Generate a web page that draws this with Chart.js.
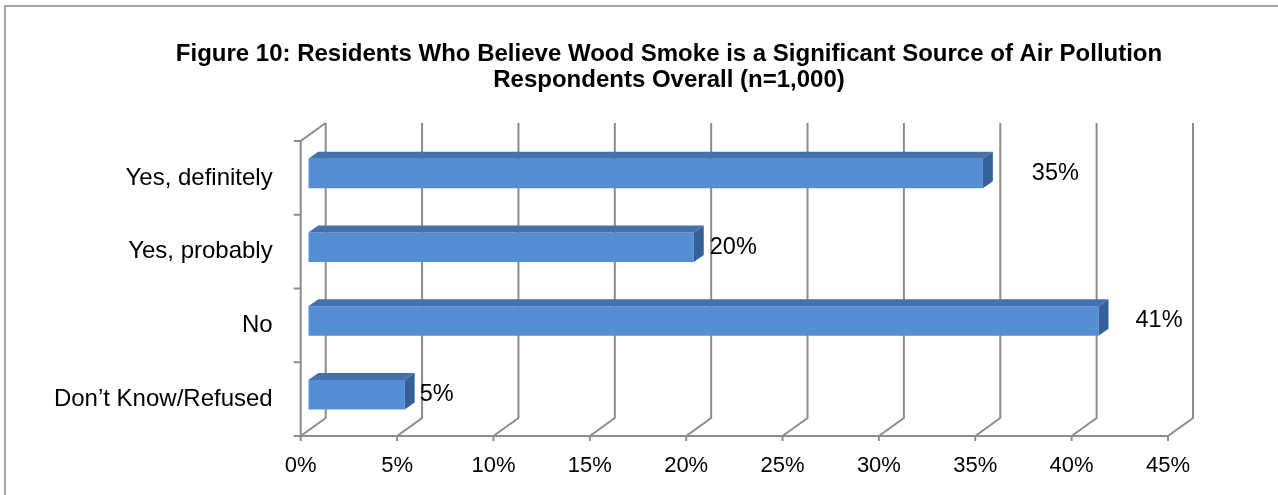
<!DOCTYPE html>
<html lang="en">

<head>
    <meta charset="UTF-8">
    <title>Figure 10</title>
    <script src="https://cdn.jsdelivr.net/npm/chart.js"></script>
    <style>
        body { margin: 0; background: #fff; }
        #wrap { width: 1278px; height: 495px; }
    </style>
</head>

<body>
    <div id="wrap"><canvas id="myChart" width="1278" height="495"></canvas></div>

    <script>
        const categories = ['Yes, definitely', 'Yes, probably', 'No', 'Don\u2019t Know/Refused'];
        const percents = [35, 20, 41, 5];
        const xTickValues = [0, 5, 10, 15, 20, 25, 30, 35, 40, 45];
        const titleLines = [
            'Figure 10: Residents Who Believe Wood Smoke is a Significant Source of Air Pollution',
            'Respondents Overall (n=1,000)'
        ];

        const FONT = "'Liberation Sans', Arial, sans-serif";
        // 3d look, in px
        const DEPTH = { x: 25, y: -18 };
        const BAR_FRONT = { x: 7.6, y: -4.5 };
        const BAR_DEPTH = { x: 10, y: -7 };
        const labelNudge = [49, 16, 37, 15];

        const walls = {
            id: 'walls',
            beforeDatasetsDraw(chart) {
                const { ctx, chartArea: a, scales: { x } } = chart;
                ctx.save();
                ctx.strokeStyle = '#8c8c8c';
                ctx.lineWidth = 2;
                x.ticks.forEach(t => {
                    const px = x.getPixelForValue(t.value);
                    ctx.beginPath();
                    ctx.moveTo(px, a.bottom);
                    ctx.lineTo(px + DEPTH.x, a.bottom + DEPTH.y);
                    ctx.lineTo(px + DEPTH.x, a.top + DEPTH.y);
                    ctx.stroke();
                    ctx.beginPath();
                    ctx.moveTo(px, a.bottom);
                    ctx.lineTo(px, a.bottom + 5);
                    ctx.stroke();
                });
                // floor front edge
                ctx.beginPath();
                ctx.moveTo(a.left, a.bottom);
                ctx.lineTo(a.right, a.bottom);
                ctx.stroke();
                // left wall
                ctx.beginPath();
                ctx.moveTo(a.left, a.bottom);
                ctx.lineTo(a.left, a.top);
                ctx.lineTo(a.left + DEPTH.x, a.top + DEPTH.y);
                ctx.stroke();
                const n = categories.length;
                for (let i = 0; i <= n; i++) {
                    const yy = a.top + i * (a.bottom - a.top) / n;
                    ctx.beginPath();
                    ctx.moveTo(a.left - 7, yy);
                    ctx.lineTo(a.left, yy);
                    ctx.stroke();
                }
                ctx.restore();
                // bars sit a bit back from the front plane
                ctx.save();
                ctx.translate(BAR_FRONT.x, BAR_FRONT.y);
            },
            afterDatasetsDraw(chart) {
                const { ctx } = chart;
                ctx.restore();
                const meta = chart.getDatasetMeta(0);
                meta.data.forEach((bar, i) => {
                    const p = bar.getProps(['x', 'y', 'base', 'height'], true);
                    const left = p.base + BAR_FRONT.x, right = p.x + BAR_FRONT.x;
                    const top = p.y - p.height / 2 + BAR_FRONT.y, bottom = p.y + p.height / 2 + BAR_FRONT.y;
                    ctx.fillStyle = '#4471ab';
                    ctx.beginPath();
                    ctx.moveTo(left, top);
                    ctx.lineTo(left + BAR_DEPTH.x, top + BAR_DEPTH.y);
                    ctx.lineTo(right + BAR_DEPTH.x, top + BAR_DEPTH.y);
                    ctx.lineTo(right, top);
                    ctx.closePath();
                    ctx.fill();
                    ctx.fillStyle = '#36609a';
                    ctx.beginPath();
                    ctx.moveTo(right, top);
                    ctx.lineTo(right + BAR_DEPTH.x, top + BAR_DEPTH.y);
                    ctx.lineTo(right + BAR_DEPTH.x, bottom + BAR_DEPTH.y);
                    ctx.lineTo(right, bottom);
                    ctx.closePath();
                    ctx.fill();

                    ctx.fillStyle = '#000';
                    ctx.font = '23.5px ' + FONT;
                    ctx.textAlign = 'left';
                    ctx.textBaseline = 'middle';
                    ctx.fillText(percents[i] + '%', right + labelNudge[i], (top + bottom) / 2);
                });
            },
            afterDraw(chart) {
                const { ctx } = chart;
                ctx.save();
                ctx.strokeStyle = '#a6a6a6';
                ctx.lineWidth = 2;
                ctx.strokeRect(5, 6, 1290, 510);
                // title
                ctx.fillStyle = '#000';
                ctx.font = 'bold 24px ' + FONT;
                ctx.textAlign = 'center';
                ctx.textBaseline = 'alphabetic';
                ctx.fillText(titleLines[0], 669, 61);
                ctx.fillText(titleLines[1], 669, 87);
                ctx.restore();
            }
        };

        new Chart(document.getElementById('myChart'), {
            type: 'bar',
            data: {
                labels: categories,
                datasets: [{
                    data: percents,
                    backgroundColor: '#568ed6',
                    borderWidth: 0,
                    barPercentage: 0.4,
                    categoryPercentage: 1
                }]
            },
            options: {
                indexAxis: 'y',
                responsive: false,
                animation: false,
                layout: { padding: { left: 20, right: 110, top: 141, bottom: 9 } },
                plugins: {
                    legend: { display: false },
                    tooltip: { enabled: false },
                    title: { display: false }
                },
                scales: {
                    x: {
                        min: 0,
                        max: 45,
                        afterBuildTicks: s => { s.ticks = xTickValues.map(v => ({ value: v })); },
                        afterFit: s => { s.height = 50; },
                        grid: { display: false },
                        border: { display: false },
                        ticks: {
                            color: '#000',
                            font: { family: FONT, size: 22 },
                            padding: 9,
                            maxRotation: 0,
                            autoSkip: false,
                            callback: v => v + '%'
                        }
                    },
                    y: {
                        afterFit: s => { s.width = 280.7; },
                        grid: { display: false },
                        border: { display: false },
                        ticks: {
                            color: '#000',
                            font: { family: FONT, size: 24 },
                            padding: 20
                        }
                    }
                }
            },
            plugins: [walls]
        });
    </script>
</body>

</html>
